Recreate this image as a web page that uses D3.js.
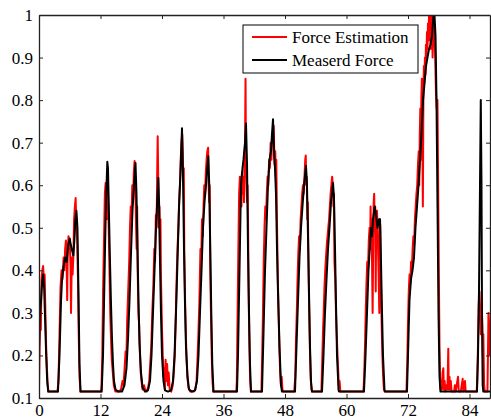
<!DOCTYPE html>
<html lang="en">
<head>
  <meta charset="UTF-8">
  <title>Force Estimation vs Measured Force</title>
  <script src="https://d3js.org/d3.v7.min.js"></script>
  <style>
    body {
      margin: 0;
      background: #fff;
    }
    svg {
      display: block;
      font-family: "Liberation Serif", "Times New Roman", serif;
    }
    .axis path, .axis line {
      stroke: #222;
    }
  </style>
</head>
<body>
<svg width="491" height="419"></svg>

<script>
const xTicks = [0, 12, 24, 36, 48, 60, 72, 84];
const yTicks = [0.1, 0.2, 0.3, 0.4, 0.5, 0.6, 0.7, 0.8, 0.9, 1];
const seriesNames = ["Force Estimation", "Measerd Force"];

// measured force, [time, value]
const measuredForce = [
  [0,0.22],[0.2,0.3],[0.4,0.33],[0.6,0.37],[0.8,0.39],[1.0,0.36],[1.2,0.28],[1.4,0.2],[1.6,0.14],[1.8,0.115],
  [3.7,0.115],[4.0,0.2],[4.3,0.33],[4.5,0.38],[4.8,0.41],[5.1,0.43],[5.4,0.42],[5.7,0.46],[6.0,0.475],[6.2,0.46],[6.5,0.445],[6.7,0.435],[6.9,0.47],[7.1,0.52],[7.3,0.54],[7.5,0.5],[7.7,0.35],[7.9,0.18],[8.1,0.115],
  [12.23,0.115],[12.49,0.2],[12.68,0.32],[12.88,0.45],[13.07,0.56],[13.33,0.655],[13.46,0.64],[13.6,0.56],[13.85,0.42],[14.05,0.32],[14.24,0.24],[14.44,0.18],[14.63,0.14],[14.93,0.12],[15.41,0.115],[16.2,0.115],[16.68,0.13],[17.07,0.17],[17.37,0.24],
  [17.66,0.33],[17.95,0.44],[18.24,0.54],[18.54,0.6],[18.83,0.652],[19.02,0.58],[19.22,0.45],[19.41,0.33],[19.61,0.23],[19.9,0.16],[20.2,0.125],[20.68,0.115],[21.27,0.118],[21.66,0.14],[21.95,0.2],
  [22.24,0.3],[22.54,0.4],[22.83,0.5],[23.02,0.55],[23.28,0.617],[23.45,0.55],[23.61,0.42],[23.8,0.3],[24.0,0.2],[24.29,0.14],[24.59,0.118],[25.17,0.115],[25.76,0.118],[26.15,0.14],[26.44,0.2],
  [26.73,0.3],[27.02,0.42],[27.32,0.55],[27.61,0.63],[27.9,0.734],[28.1,0.62],[28.29,0.45],[28.49,0.32],[28.68,0.22],[28.98,0.15],[29.27,0.12],[29.85,0.115],[30.44,0.118],[30.83,0.14],[31.12,0.2],
  [31.41,0.3],[31.71,0.4],[32.0,0.5],[32.29,0.56],[32.59,0.6],[32.84,0.64],[33.03,0.668],[33.22,0.6],[33.42,0.45],[33.62,0.3],[33.81,0.18],[34.05,0.115],
  [38.63,0.115],[38.83,0.2],[39.12,0.4],[39.41,0.6],[39.71,0.64],[39.9,0.66],[40.2,0.7],[40.39,0.745],[40.59,0.65],[40.78,0.45],[40.98,0.3],[41.17,0.18],[41.37,0.115],
  [43.51,0.115],[43.8,0.25],[44.1,0.4],[44.39,0.5],[44.68,0.6],[44.98,0.66],[45.27,0.68],[45.46,0.72],[45.66,0.755],[45.85,0.68],[46.05,0.64],[46.24,0.58],[46.44,0.45],[46.63,0.35],[46.93,0.22],[47.22,0.13],[47.41,0.115],
  [49.95,0.115],[50.24,0.22],[50.54,0.33],[50.83,0.43],[51.12,0.5],[51.41,0.55],[51.71,0.6],[52.1,0.645],[52.29,0.6],[52.49,0.48],[52.68,0.35],[52.88,0.22],[53.07,0.14],[53.27,0.115],
  [55.22,0.115],[55.51,0.2],[55.8,0.3],[56.1,0.38],[56.39,0.45],[56.68,0.5],[56.98,0.56],[57.37,0.605],[57.56,0.57],[57.76,0.45],[57.95,0.32],[58.15,0.2],[58.44,0.12],[58.54,0.115],
  [63.41,0.115],[63.71,0.2],[64.0,0.3],[64.29,0.4],[64.59,0.46],[64.78,0.5],[64.98,0.48],[65.17,0.52],[65.5,0.55],[65.76,0.53],[66.05,0.5],[66.34,0.52],[66.54,0.52],[66.73,0.42],[66.93,0.3],[67.12,0.2],[67.41,0.12],[67.51,0.115],
  [71.8,0.115],[72.0,0.2],[72.29,0.33],[72.59,0.38],[72.88,0.4],[73.17,0.43],[73.46,0.5],[73.76,0.55],[74.05,0.6],[74.34,0.66],[74.63,0.72],[74.93,0.8],[75.22,0.84],[75.51,0.88],[75.8,0.9],[76.1,0.92],[76.39,0.93],[76.68,0.95],[76.98,1.0],[77.17,1.0],[77.37,0.95],[77.56,0.8],[77.76,0.55],[77.95,0.3],[78.15,0.15],[78.34,0.115],
  [85.46,0.115],[85.66,0.2],[85.85,0.35],[86.05,0.6],[86.2,0.8],[86.34,0.6],[86.44,0.3],[86.57,0.13],[86.7,0.115],[88,0.115]
];

// estimated force, [time, value]
const forceEstimation = [
  [0,0.12],[0.1,0.2],[0.25,0.3],[0.35,0.26],[0.5,0.38],[0.65,0.4],[0.8,0.41],[0.95,0.38],[1.1,0.39],[1.25,0.3],[1.4,0.22],[1.55,0.17],[1.7,0.13],[1.85,0.115],
  [3.6,0.115],[3.8,0.14],[4.0,0.25],[4.2,0.36],[4.4,0.4],[4.6,0.38],[4.8,0.43],[4.95,0.4],[5.1,0.45],[5.25,0.47],[5.4,0.41],[5.5,0.33],[5.6,0.44],[5.75,0.48],[5.9,0.47],[6.05,0.45],[6.15,0.41],[6.25,0.3],[6.4,0.43],[6.55,0.39],[6.7,0.43],[6.85,0.52],[7.0,0.55],[7.15,0.57],[7.3,0.5],[7.45,0.47],[7.6,0.38],[7.75,0.25],[7.9,0.15],[8.1,0.115],
  [12.1,0.115],[12.2,0.13],[12.35,0.2],[12.5,0.35],[12.7,0.48],[12.85,0.58],[13.0,0.605],[13.1,0.56],[13.2,0.52],[13.3,0.6],[13.45,0.59],[13.6,0.5],[13.75,0.4],[13.9,0.3],[14.05,0.24],[14.2,0.19],[14.4,0.16],[14.6,0.13],[14.9,0.115],[15.6,0.115],[16.0,0.12],[16.3,0.14],[16.5,0.13],[16.7,0.17],[16.9,0.21],[17.05,0.19],[17.2,0.28],
  [17.4,0.35],[17.6,0.42],[17.75,0.5],[17.9,0.55],[18.05,0.52],[18.2,0.6],[18.35,0.56],[18.5,0.63],[18.65,0.657],[18.8,0.6],[18.95,0.5],[19.05,0.45],[19.15,0.55],[19.25,0.4],[19.4,0.3],[19.55,0.27],[19.7,0.2],[19.85,0.16],[20.0,0.14],[20.2,0.12],[20.5,0.13],[20.7,0.12],[21.0,0.115],[21.3,0.125],[21.5,0.14],[21.7,0.18],
  [21.9,0.22],[22.1,0.3],[22.3,0.36],[22.5,0.45],[22.65,0.42],[22.8,0.53],[22.95,0.5],[23.05,0.62],[23.16,0.715],[23.28,0.6],[23.4,0.5],[23.5,0.55],[23.6,0.45],[23.7,0.52],[23.8,0.38],[23.9,0.32],[24.0,0.26],[24.15,0.2],[24.3,0.15],[24.45,0.17],[24.55,0.12],[24.7,0.19],[24.85,0.14],[25.0,0.18],[25.15,0.13],[25.3,0.16],[25.5,0.12],[25.8,0.115],[26.1,0.13],[26.3,0.16],[26.5,0.2],
  [26.7,0.3],[26.9,0.4],[27.05,0.46],[27.2,0.5],[27.35,0.56],[27.5,0.6],[27.65,0.66],[27.8,0.7],[27.95,0.72],[28.05,0.68],[28.15,0.6],[28.25,0.64],[28.35,0.45],[28.5,0.33],[28.65,0.25],[28.8,0.19],[28.95,0.15],[29.15,0.125],[29.5,0.115],[30.2,0.115],[30.5,0.12],[30.75,0.14],[30.95,0.2],
  [31.1,0.25],[31.3,0.33],[31.5,0.45],[31.65,0.42],[31.8,0.52],[31.95,0.48],[32.1,0.55],[32.25,0.6],[32.4,0.58],[32.55,0.63],[32.7,0.66],[32.85,0.68],[33.0,0.688],[33.1,0.6],[33.2,0.56],[33.3,0.6],[33.4,0.42],[33.55,0.3],[33.7,0.2],[33.85,0.14],[34.0,0.115],
  [38.5,0.115],[38.6,0.14],[38.75,0.3],[38.9,0.45],[39.05,0.58],[39.2,0.62],[39.35,0.6],[39.5,0.55],[39.6,0.63],[39.75,0.58],[39.9,0.62],[40.0,0.56],[40.1,0.65],[40.2,0.7],[40.3,0.85],[40.38,0.66],[40.5,0.6],[40.6,0.56],[40.7,0.6],[40.8,0.5],[40.9,0.35],[41.05,0.22],[41.2,0.14],[41.35,0.115],
  [43.4,0.115],[43.55,0.2],[43.7,0.3],[43.85,0.42],[44.0,0.5],[44.15,0.55],[44.3,0.52],[44.45,0.58],[44.6,0.62],[44.75,0.6],[44.9,0.66],[45.05,0.64],[45.2,0.7],[45.35,0.66],[45.5,0.72],[45.65,0.7],[45.8,0.74],[45.95,0.65],[46.1,0.68],[46.2,0.62],[46.3,0.66],[46.45,0.5],[46.6,0.38],[46.75,0.3],[46.9,0.22],[47.05,0.16],[47.2,0.13],[47.35,0.15],[47.5,0.12],[47.7,0.115],
  [49.8,0.115],[50.0,0.15],[50.15,0.24],[50.3,0.3],[50.45,0.38],[50.6,0.44],[50.75,0.48],[50.9,0.45],[51.05,0.52],[51.2,0.55],[51.35,0.58],[51.5,0.6],[51.65,0.58],[51.8,0.62],[51.95,0.66],[52.05,0.67],[52.15,0.6],[52.25,0.62],[52.35,0.52],[52.45,0.56],[52.55,0.45],[52.7,0.32],[52.85,0.22],[53.0,0.15],[53.15,0.12],[53.3,0.115],
  [55.1,0.115],[55.25,0.18],[55.4,0.25],[55.55,0.3],[55.7,0.36],[55.85,0.4],[56.0,0.43],[56.15,0.46],[56.3,0.48],[56.45,0.5],[56.6,0.52],[56.75,0.55],[56.9,0.58],[57.05,0.6],[57.2,0.62],[57.35,0.6],[57.45,0.55],[57.55,0.58],[57.65,0.42],[57.8,0.38],[57.95,0.3],[58.1,0.25],[58.25,0.2],[58.4,0.16],[58.5,0.13],[58.65,0.14],[58.8,0.115],
  [63.3,0.115],[63.45,0.15],[63.6,0.22],[63.75,0.3],[63.9,0.37],[64.05,0.42],[64.2,0.4],[64.35,0.47],[64.5,0.5],[64.6,0.45],[64.7,0.55],[64.8,0.48],[64.9,0.52],[65.0,0.4],[65.1,0.3],[65.2,0.45],[65.3,0.56],[65.4,0.58],[65.5,0.5],[65.6,0.55],[65.7,0.35],[65.8,0.52],[65.95,0.54],[66.1,0.48],[66.25,0.4],[66.4,0.3],[66.5,0.52],[66.6,0.5],[66.7,0.38],[66.85,0.28],[67.0,0.2],[67.15,0.15],[67.3,0.12],[67.45,0.115],
  [71.7,0.115],[71.85,0.18],[72.0,0.28],[72.15,0.35],[72.3,0.39],[72.45,0.37],[72.6,0.42],[72.75,0.4],[72.9,0.45],[73.05,0.48],[73.2,0.46],[73.35,0.52],[73.5,0.55],[73.65,0.58],[73.8,0.6],[73.95,0.65],[74.1,0.68],[74.2,0.6],[74.3,0.72],[74.4,0.78],[74.5,0.66],[74.6,0.8],[74.7,0.85],[74.8,0.72],[74.9,0.55],[75.0,0.8],[75.1,0.88],[75.2,0.84],[75.3,0.9],[75.4,0.86],[75.5,0.93],[75.6,0.9],[75.7,0.96],[75.8,0.92],[75.9,0.98],[76.0,0.94],[76.1,1.0],[76.2,0.95],[76.3,1.0],[76.4,0.92],[76.5,1.0],[76.6,0.97],[76.7,1.0],[76.8,0.9],[76.9,0.95],[77.0,1.0],[77.1,0.98],[77.2,0.95],[77.3,0.9],[77.45,0.82],[77.6,0.78],[77.75,0.8],[77.85,0.65],[77.95,0.5],[78.05,0.35],[78.15,0.22],[78.25,0.15],[78.35,0.12],
  [78.5,0.14],[78.6,0.12],[78.75,0.16],[78.9,0.17],[79.0,0.12],[79.15,0.14],[79.3,0.115],[79.5,0.13],[79.7,0.12],[79.86,0.216],[79.95,0.12],[80.1,0.15],[80.2,0.12],[80.35,0.14],[80.5,0.115],[81.0,0.115],[81.15,0.13],[81.3,0.115],[81.76,0.15],[81.9,0.115],[82.3,0.115],[82.67,0.145],[82.8,0.115],[83.12,0.14],[83.25,0.115],
  [85.4,0.115],[85.5,0.14],[85.65,0.22],[85.8,0.32],[85.95,0.35],[86.1,0.3],[86.2,0.25],[86.35,0.32],[86.5,0.27],[86.6,0.2],[86.7,0.25],[86.85,0.13],[87.0,0.115],[87.5,0.115],[87.6,0.2],[87.7,0.3],[87.8,0.28],[87.9,0.22],[88,0.2]
];

const serif = '"Liberation Serif", "Times New Roman", serif';

const svg = d3.select("svg");
const plotLeft = 39, plotRight = 490, plotTop = 15, plotBottom = 398;

const x = d3.scaleLinear().domain([0, 88]).range([plotLeft, plotRight]);
const y = d3.scaleLinear().domain([0.1, 1]).range([plotBottom, plotTop]);

svg.append("defs").append("clipPath").attr("id", "plotClip")
  .append("rect")
  .attr("x", plotLeft).attr("y", plotTop)
  .attr("width", plotRight - plotLeft).attr("height", plotBottom - plotTop);

const line = d3.line()
  .x(d => x(d[0]))
  .y(d => y(d[1]));

const plot = svg.append("g").attr("clip-path", "url(#plotClip)");

plot.append("path")
  .datum(forceEstimation)
  .attr("fill", "none")
  .attr("stroke", "#ff0000")
  .attr("stroke-width", 2)
  .attr("stroke-linejoin", "round")
  .attr("d", line);

plot.append("path")
  .datum(measuredForce)
  .attr("fill", "none")
  .attr("stroke", "#000")
  .attr("stroke-width", 2)
  .attr("stroke-linejoin", "round")
  .attr("d", line);

// axes, matlab style box with inward ticks
const xAxisG = svg.append("g")
  .attr("class", "axis")
  .attr("transform", `translate(0,${plotBottom})`)
  .call(d3.axisBottom(x).tickValues(xTicks).tickSizeInner(-4).tickSizeOuter(0).tickPadding(6));

const yAxisG = svg.append("g")
  .attr("class", "axis")
  .attr("transform", `translate(${plotLeft},0)`)
  .call(d3.axisLeft(y).tickValues(yTicks).tickFormat(d3.format("")).tickSizeInner(-4).tickSizeOuter(0).tickPadding(6));

svg.append("g")
  .attr("class", "axis")
  .attr("transform", `translate(0,${plotTop})`)
  .call(d3.axisTop(x).tickValues(xTicks).tickFormat("").tickSizeInner(-4).tickSizeOuter(0));

svg.append("g")
  .attr("class", "axis")
  .attr("transform", `translate(${plotRight},0)`)
  .call(d3.axisRight(y).tickValues(yTicks).tickFormat("").tickSizeInner(-4).tickSizeOuter(0));

svg.selectAll(".axis").attr("font-family", null).attr("font-size", null);
svg.selectAll(".axis text")
  .style("font-family", serif)
  .style("font-size", "17px")
  .attr("fill", "#000");
svg.selectAll(".axis .domain").attr("stroke-width", 1.3);

// legend
const legend = svg.append("g").attr("transform", "translate(243,25)");

legend.append("rect")
  .attr("width", 175)
  .attr("height", 48)
  .attr("fill", "#fff")
  .attr("stroke", "#000")
  .attr("stroke-width", 1);

const legendColors = ["#ff0000", "#000"];

seriesNames.forEach((name, i) => {
  const ly = 12 + i * 23;
  legend.append("line")
    .attr("x1", 9).attr("x2", 44)
    .attr("y1", ly).attr("y2", ly)
    .attr("stroke", legendColors[i])
    .attr("stroke-width", 2);
  legend.append("text")
    .attr("x", 49)
    .attr("y", ly)
    .attr("dy", "0.33em")
    .style("font-family", serif)
    .style("font-size", "17px")
    .text(name);
});
</script>
</body>
</html>
